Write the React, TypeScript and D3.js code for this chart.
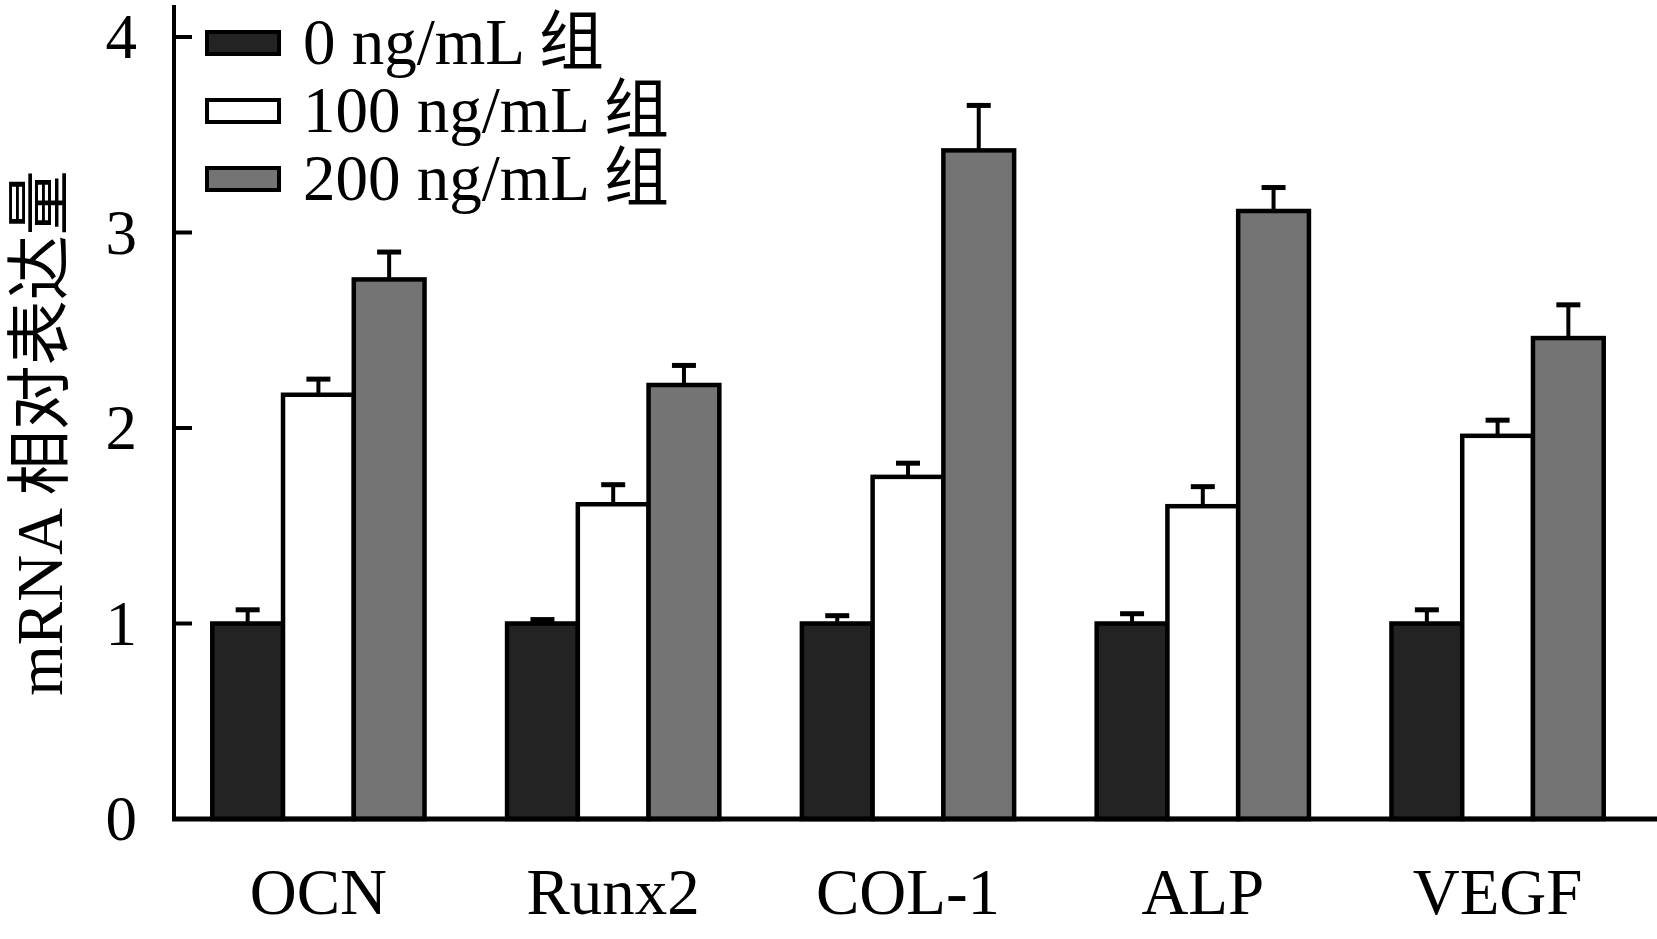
import React from "react";
import * as d3 from "d3";

const categories = ["OCN", "Runx2", "COL-1", "ALP", "VEGF"];
const groups = ["0 ng/mL 组", "100 ng/mL 组", "200 ng/mL 组"];
const values0 = [1.0, 1.0, 1.0, 1.0, 1.0];
const values100 = [2.17, 1.61, 1.75, 1.6, 1.96];
const values200 = [2.76, 2.22, 3.42, 3.11, 2.46];
const errors0 = [0.07, 0.02, 0.04, 0.05, 0.07];
const errors100 = [0.08, 0.1, 0.07, 0.1, 0.08];
const errors200 = [0.14, 0.1, 0.23, 0.12, 0.17];
const yTicks = [0, 1, 2, 3, 4];
const colors = ["#232323", "#ffffff", "#747474"];

const W = 1657;
const H = 939;
const font = '"Liberation Serif", "Times New Roman", "Noto Sans CJK SC", serif';

export default function App() {
  const margin = { left: 174, right: 0, top: 5, bottom: 120 };
  const series = [values0, values100, values200];
  const errs = [errors0, errors100, errors200];

  const x0 = d3
    .scaleBand()
    .domain(categories)
    .range([171, W - 12])
    .paddingInner(0.28)
    .paddingOuter(0.14);
  const x1 = d3.scaleBand().domain(groups).range([0, x0.bandwidth()]);
  const y = d3.scaleLinear().domain([0, 4]).range([H - margin.bottom, 37]);

  const capHalf = 12;

  return (
    <svg
      width={W}
      height={H}
      style={{ position: "absolute", left: 0, top: 0, background: "#fff" }}
      fontFamily={font}
    >
      {/* bars and error bars */}
      {categories.map((c, i) => (
        <g key={c} transform={`translate(${x0(c)},0)`}>
          {groups.map((g, j) => {
            const v = series[j][i];
            const e = errs[j][i];
            const bx = x1(g)!;
            const cx = bx + x1.bandwidth() / 2;
            return (
              <g key={g}>
                <line x1={cx} x2={cx} y1={y(v)} y2={y(v + e)} stroke="#000" strokeWidth={4} />
                <line
                  x1={cx - capHalf}
                  x2={cx + capHalf}
                  y1={y(v + e)}
                  y2={y(v + e)}
                  stroke="#000"
                  strokeWidth={5}
                />
                <rect
                  x={bx}
                  y={y(v)}
                  width={x1.bandwidth()}
                  height={y(0) - y(v)}
                  fill={colors[j]}
                  stroke="#000"
                  strokeWidth={4.5}
                />
              </g>
            );
          })}
          <text
            x={x0.bandwidth() / 2}
            y={914}
            textAnchor="middle"
            fontSize={65}
          >
            {c}
          </text>
        </g>
      ))}

      {/* y axis */}
      <line x1={margin.left} x2={margin.left} y1={margin.top} y2={y(0) + 2} stroke="#000" strokeWidth={4} />
      {yTicks.map((t) => (
        <g key={t}>
          <line x1={margin.left} x2={margin.left + 18} y1={y(t)} y2={y(t)} stroke="#000" strokeWidth={4} />
          <text x={137} y={y(t) + 21} textAnchor="end" fontSize={63}>
            {t}
          </text>
        </g>
      ))}
      {/* x axis */}
      <line x1={margin.left - 2} x2={W} y1={y(0)} y2={y(0)} stroke="#000" strokeWidth={5} />

      <text
        transform={`translate(62,${433}) rotate(-90)`}
        textAnchor="middle"
        fontSize={65}
      >
        mRNA 相对表达量
      </text>

      {/* legend */}
      {groups.map((g, j) => (
        <g key={g} transform={`translate(207,${43 + j * 68})`}>
          <rect x={0} y={-11} width={72} height={22} fill={colors[j]} stroke="#000" strokeWidth={4} />
          <text x={96} y={21} fontSize={65}>
            {g}
          </text>
        </g>
      ))}
    </svg>
  );
}
